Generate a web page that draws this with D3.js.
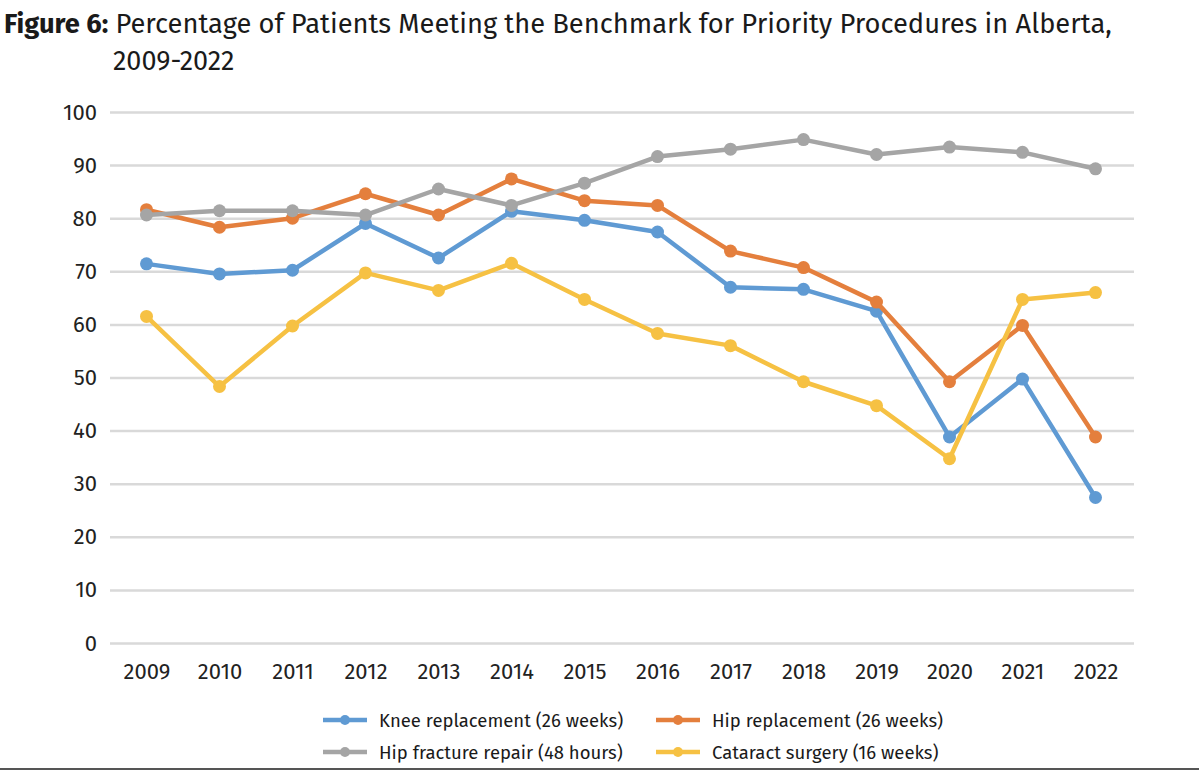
<!DOCTYPE html>
<html>
<head>
<meta charset="utf-8">
<script src="https://cdn.jsdelivr.net/npm/d3@7"></script>
<style>
  body { margin: 0; background: #fff; }
  svg { display: block; font-family: "Fira Sans", "Noto Sans", "Open Sans", sans-serif; }
</style>
</head>
<body>
<div id="viz-container"></div>
<script>
var YEARS = [2009, 2010, 2011, 2012, 2013, 2014, 2015, 2016, 2017, 2018, 2019, 2020, 2021, 2022];
var Y_TICKS = [0, 10, 20, 30, 40, 50, 60, 70, 80, 90, 100];

var KNEE     = [71.4, 69.5, 70.2, 79.0, 72.5, 81.3, 79.6, 77.4, 67.0, 66.6, 62.5, 38.8, 49.7, 27.4];
var HIP      = [81.6, 78.3, 80.0, 84.6, 80.6, 87.4, 83.3, 82.4, 73.8, 70.7, 64.2, 49.2, 59.8, 38.8];
var FRACTURE = [80.6, 81.4, 81.4, 80.6, 85.5, 82.4, 86.6, 91.6, 93.0, 94.8, 92.0, 93.4, 92.4, 89.3];
var CATARACT = [61.5, 48.3, 59.7, 69.7, 66.4, 71.5, 64.7, 58.3, 56.0, 49.2, 44.7, 34.7, 64.7, 66.0];

var SERIES_NAMES = ['Knee replacement (26 weeks)', 'Hip replacement (26 weeks)',
                    'Hip fracture repair (48 hours)', 'Cataract surgery (16 weeks)'];
var SERIES_COLORS = ['#5f9ad3', '#e47f3d', '#a5a5a5', '#f6c143'];

function init() {
	var series = [KNEE, HIP, FRACTURE, CATARACT].map(function(vals, i) {
		return {name: SERIES_NAMES[i], color: SERIES_COLORS[i], values: vals};
	});

	var svg = d3.select('#viz-container').append('svg')
		.attr('width', 1199)
		.attr('height', 771);

	// title
	var title = svg.append('text')
		.attr('x', 4)
		.attr('y', 33)
		.attr('fill', '#1a1a1a')
		.style('font-size', '26px');
	title.append('tspan').style('font-weight', 'bold').text('Figure 6:');
	title.append('tspan').text(' Percentage of Patients Meeting the Benchmark for Priority Procedures in Alberta,');
	var w = title.node().getComputedTextLength();
	title.style('font-size', (26 * 1108 / w) + 'px');

	svg.append('text')
		.attr('x', 113)
		.attr('y', 70)
		.attr('fill', '#1a1a1a')
		.style('font-size', '27px')
		.text('2009-2022');

	var x = d3.scalePoint()
		.domain(YEARS)
		.range([110, 1132])
		.padding(0.5);

	var y = d3.scaleLinear()
		.domain([0, 100])
		.range([643, 112]);

	// gridlines + y labels
	var yAxis = svg.append('g')
		.attr('transform', 'translate(110,0)')
		.call(d3.axisLeft(y).tickValues(Y_TICKS).tickSize(-1024).tickPadding(13));
	yAxis.select('.domain').remove();
	yAxis.selectAll('.tick line').attr('stroke', '#d9d9d9').attr('stroke-width', 2.5);
	yAxis.selectAll('.tick text')
		.attr('fill', '#222')
		.style('font-size', '22px')
		.style('font-family', '"Fira Sans", "Noto Sans", sans-serif');

	// x labels
	var xAxis = svg.append('g')
		.attr('transform', 'translate(0,643)')
		.call(d3.axisBottom(x).tickSize(0).tickPadding(20).tickFormat(d3.format('d')));
	xAxis.select('.domain').remove();
	xAxis.selectAll('.tick text')
		.attr('fill', '#222')
		.style('font-size', '22px')
		.style('font-family', '"Fira Sans", "Noto Sans", sans-serif');

	var line = d3.line()
		.x(function(d, i) { return x(YEARS[i]); })
		.y(function(d) { return y(d); });

	var g = svg.append('g');

	series.forEach(function(s) {
		g.append('path')
			.datum(s.values)
			.attr('d', line)
			.attr('fill', 'none')
			.attr('stroke', s.color)
			.attr('stroke-width', 4.5)
			.attr('stroke-linejoin', 'round');

		g.append('g').selectAll('circle')
			.data(s.values)
			.enter().append('circle')
			.attr('cx', function(d, i) { return x(YEARS[i]); })
			.attr('cy', function(d) { return y(d); })
			.attr('r', 6.5)
			.attr('fill', s.color);
	});

	// legend
	var legendPos = [[323, 720], [656, 720], [323, 752], [656, 752]];
	var legend = svg.append('g').selectAll('g')
		.data(series)
		.enter().append('g')
		.attr('transform', function(d, i) { return 'translate(' + legendPos[i][0] + ',' + legendPos[i][1] + ')'; });

	legend.append('line')
		.attr('x1', 0).attr('x2', 44)
		.attr('stroke', function(d) { return d.color; })
		.attr('stroke-width', 4.5);
	legend.append('circle')
		.attr('cx', 22).attr('r', 5)
		.attr('fill', function(d) { return d.color; });
	legend.append('text')
		.attr('x', 56)
		.attr('y', 6.5)
		.attr('fill', '#1a1a1a')
		.style('font-size', '18.5px')
		.text(function(d) { return d.name; });

	svg.append('line')
		.attr('x1', 0).attr('x2', 1199)
		.attr('y1', 769).attr('y2', 769)
		.attr('stroke', '#555')
		.attr('stroke-width', 2);
}

init();
</script>
</body>
</html>
